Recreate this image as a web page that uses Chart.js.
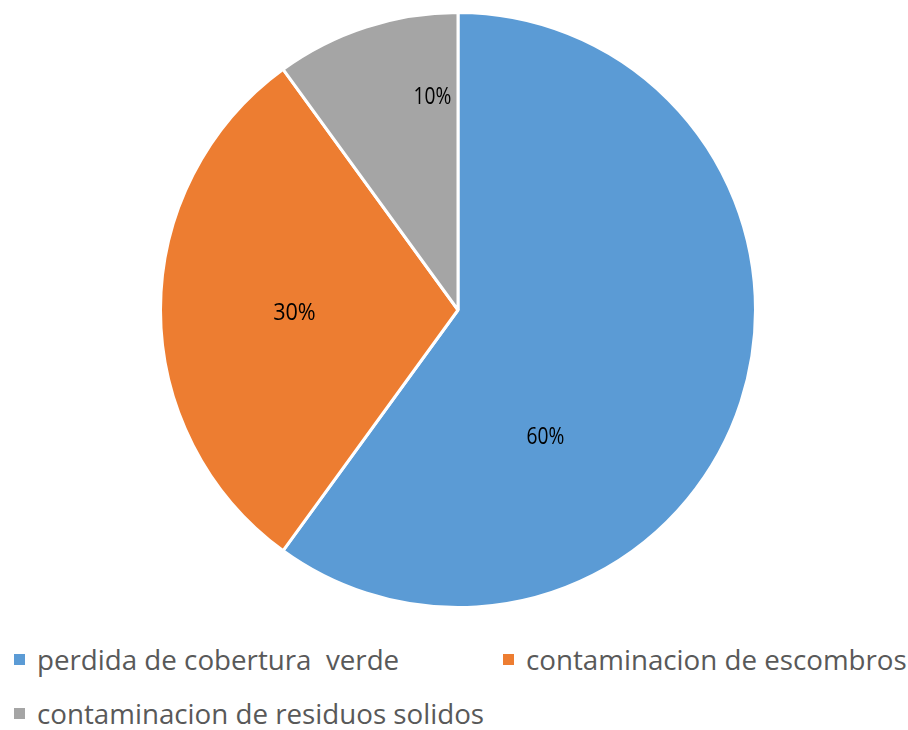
<!DOCTYPE html>
<html>
<head>
<meta charset="utf-8">
<script src="https://cdn.jsdelivr.net/npm/chart.js@4"></script>
<style>
  body { margin: 0; background: #fff; width: 908px; height: 730px; overflow: hidden; font-family: "Open Sans", sans-serif; }
  #wrap { position: absolute; left: 0; top: 0; width: 908px; height: 620px; }
  #legend { position: absolute; left: 14px; top: 640px; width: 894px; }
  .item { position: absolute; display: flex; align-items: center; white-space: nowrap; }
  .box { width: 11px; height: 11px; margin-right: 12px; }
  .txt { font-size: 28px; color: #595959; transform: scaleX(0.99); transform-origin: left center; }
</style>
</head>
<body>
<div id="wrap"><canvas id="pie"></canvas></div>
<div id="legend"></div>
<script>
const categories = ["perdida de cobertura  verde", "contaminacion de escombros", "contaminacion de residuos solidos"];
const values = [60, 30, 10];
const percentLabels = ["60%", "30%", "10%"];
const colors = ["#5B9BD5", "#ED7D31", "#A5A5A5"];

// where each label sits: fraction along the slice angle, fraction of radius
const labelSpots = [[0.674, 0.52], [0.49, 0.55], [0.81, 0.72]];

const sliceLabels = {
  id: "sliceLabels",
  afterDatasetsDraw(chart) {
    const ctx = chart.ctx;
    const arcs = chart.getDatasetMeta(0).data;
    arcs.forEach((arc, i) => {
      const p = arc.getProps(["x", "y", "startAngle", "endAngle", "outerRadius"], true);
      const a = p.startAngle + (p.endAngle - p.startAngle) * labelSpots[i][0];
      const r = p.outerRadius * labelSpots[i][1];
      const x = p.x + Math.cos(a) * r;
      const y = p.y + Math.sin(a) * r;
      ctx.save();
      ctx.translate(x, y);
      ctx.scale(i == 1 ? 0.9 : 0.8, 1);
      ctx.font = "24px 'Open Sans'";
      ctx.fillStyle = "#000";
      ctx.textAlign = "center";
      ctx.textBaseline = "middle";
      ctx.fillText(percentLabels[i], 0, 0);
      ctx.restore();
    });
  },
};

new Chart(document.getElementById("pie"), {
  type: "pie",
  data: {
    labels: categories,
    datasets: [
      {
        data: values,
        backgroundColor: colors,
        borderColor: "#fff",
        borderWidth: 3,
      },
    ],
  },
  options: {
    responsive: true,
    maintainAspectRatio: false,
    animation: false,
    layout: { padding: { top: 11, bottom: 11, left: 8 } },
    plugins: {
      legend: { display: false },
      tooltip: { enabled: false },
    },
  },
  plugins: [sliceLabels],
});

// html legend built from the same arrays
const legend = document.getElementById("legend");
const spots = [[0, 0], [489, 0], [0, 54]];
categories.forEach((c, i) => {
  const el = document.createElement("div");
  el.className = "item";
  el.style.left = spots[i][0] + "px";
  el.style.top = spots[i][1] + "px";
  el.innerHTML = `<div class="box" style="background:${colors[i]}"></div><span class="txt">${c.replace(/  /g, " &nbsp;")}</span>`;
  legend.appendChild(el);
});
</script>
</body>
</html>
